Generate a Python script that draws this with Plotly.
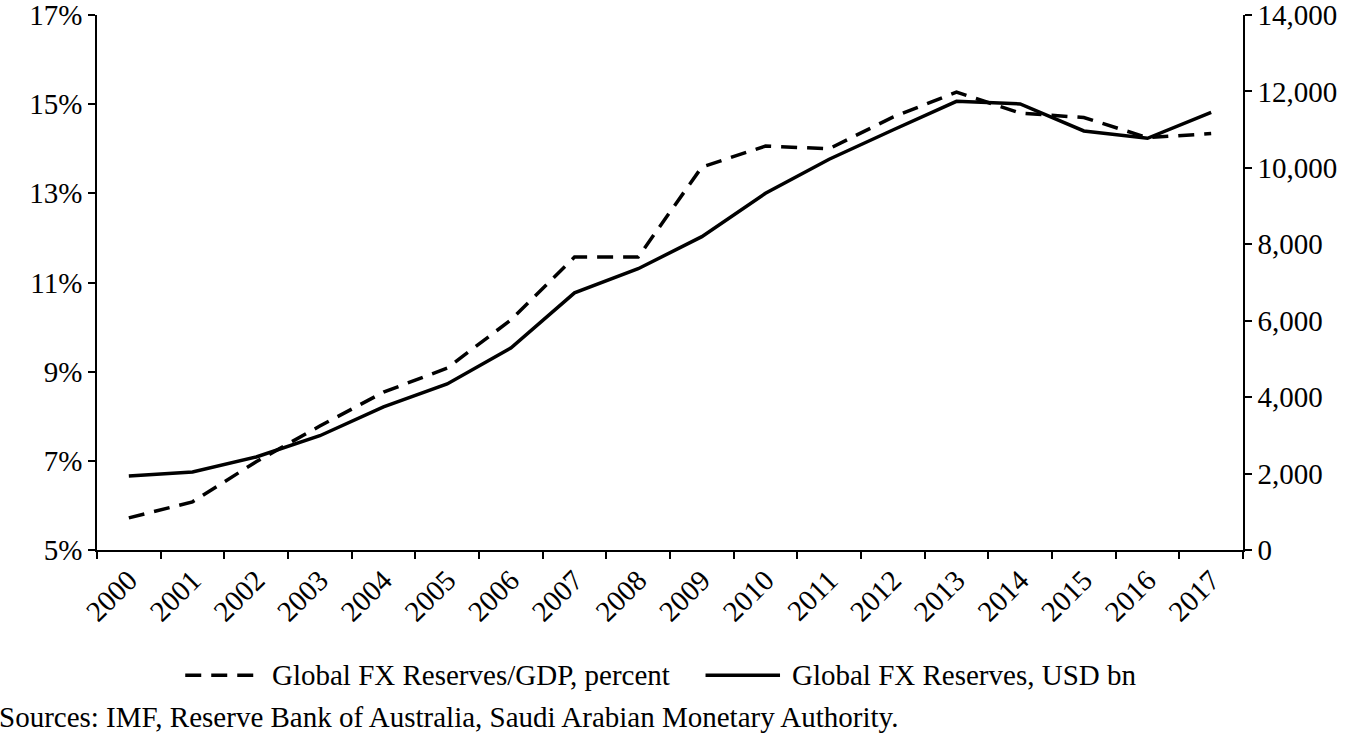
import plotly.graph_objects as go

years = [str(y) for y in range(2000, 2018)]

reserves_gdp_pct = [5.72, 6.08, 6.98, 7.78, 8.54, 9.08, 10.16, 11.57, 11.57, 13.59,
                    14.06, 14.00, 14.71, 15.27, 14.80, 14.70, 14.25, 14.34]

reserves_usd_bn = [1937, 2041, 2434, 2990, 3745, 4344, 5286, 6730, 7360, 8199,
                   9335, 10225, 10991, 11740, 11672, 10965, 10774, 11455]

left_ticks = [5, 7, 9, 11, 13, 15, 17]
right_ticks = list(range(0, 14001, 2000))

font_family = "Liberation Serif, Times New Roman, serif"
fsize = 29

fig = go.Figure()
fig.add_trace(go.Scatter(x=years, y=reserves_gdp_pct, mode="lines",
                         name="Global FX Reserves/GDP, percent",
                         line=dict(color="black", width=3.5, dash="16px,10px")))
fig.add_trace(go.Scatter(x=years, y=reserves_usd_bn, mode="lines", yaxis="y2",
                         name="Global FX Reserves, USD bn",
                         line=dict(color="black", width=3.5)))

# legenda desenhada à mão, para o traço de amostra ficar comprido como no original
legend_y = -0.234
fig.add_shape(type="line", xref="paper", yref="paper", x0=0.077, x1=0.142, y0=legend_y, y1=legend_y,
              line=dict(color="black", width=3.5, dash="16px,10px"))
fig.add_shape(type="line", xref="paper", yref="paper", x0=0.531, x1=0.596, y0=legend_y, y1=legend_y,
              line=dict(color="black", width=3.5))
fig.add_annotation(xref="paper", yref="paper", x=0.151, y=legend_y, xanchor="left", yanchor="middle",
                   text="Global FX Reserves/GDP, percent", showarrow=False, font=dict(size=fsize))
fig.add_annotation(xref="paper", yref="paper", x=0.605, y=legend_y, xanchor="left", yanchor="middle",
                   text="Global FX Reserves, USD bn", showarrow=False, font=dict(size=fsize))
fig.add_annotation(xref="paper", yref="paper", x=-0.087, y=-0.313, xanchor="left", yanchor="middle",
                   text="Sources: IMF, Reserve Bank of Australia, Saudi Arabian Monetary Authority.",
                   showarrow=False, font=dict(size=fsize))

axis_style = dict(ticks="outside", ticklen=7, tickwidth=1.5, tickcolor="black",
                  showline=True, linecolor="black", linewidth=1.5, showgrid=False,
                  zeroline=False, automargin=False, ticklabeloverflow="allow",
                  tickfont=dict(size=fsize))

fig.update_layout(
    width=1359, height=738,
    margin=dict(l=97, r=116, t=15, b=188),
    paper_bgcolor="white", plot_bgcolor="white",
    font=dict(family=font_family, size=fsize, color="black"),
    showlegend=False,
    xaxis=dict(type="category", tickson="boundaries", tickangle=-45, range=[-0.5, 17.5], **axis_style),
    yaxis=dict(range=[5, 17], tickvals=left_ticks, ticktext=[f"{v}%" for v in left_ticks], **axis_style),
    yaxis2=dict(range=[0, 14000], tickvals=right_ticks, tickformat=",", overlaying="y", side="right",
                **axis_style),
)

# tira a margem padrão do body para a figura ocupar a janela toda
fig.write_html("out.html", config={"displayModeBar": False},
               post_script="document.body.style.margin='0';")
